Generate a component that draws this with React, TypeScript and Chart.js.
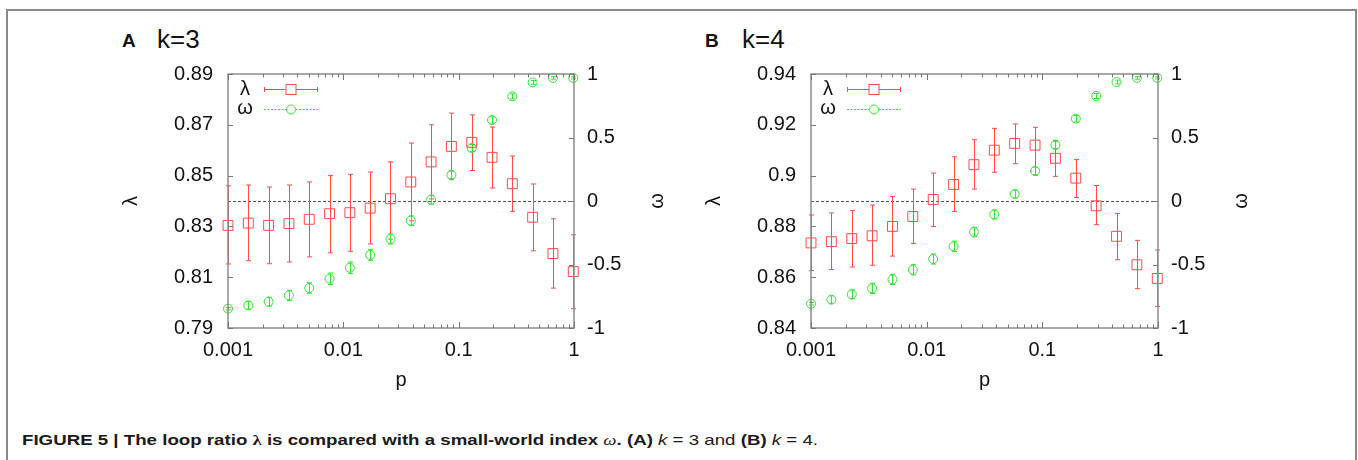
import React, { useEffect, useLayoutEffect, useRef, useState } from 'react';
import { Chart, registerables } from 'chart.js';

Chart.register(...registerables);

// ---------- data ----------
const P = [0.001, 0.0015, 0.00225, 0.003375, 0.0050625, 0.0075938, 0.0113906, 0.0170859, 0.0256289,
  0.0384434, 0.057665, 0.0864976, 0.1297463, 0.1946195, 0.2919293, 0.4378939, 0.6568408, 0.9852613];

const X_TICK_LABELS = ['0.001', '0.01', '0.1', '1'];

// Panel A: k = 3
const LAMBDA_A = [0.8304, 0.8313, 0.8304, 0.8311, 0.8328, 0.835, 0.8354, 0.8372, 0.8409, 0.8475, 0.8554, 0.8615, 0.8631, 0.8572, 0.8468, 0.8336, 0.8193, 0.8122];
const LAMBDA_HI_A = [0.846, 0.8463, 0.8455, 0.8463, 0.8475, 0.85, 0.8505, 0.8514, 0.8554, 0.8628, 0.87, 0.8746, 0.8739, 0.8691, 0.8577, 0.8467, 0.833, 0.8267];
const LAMBDA_LO_A = [0.8152, 0.8165, 0.8153, 0.816, 0.818, 0.8196, 0.8202, 0.8231, 0.825, 0.8322, 0.8408, 0.8484, 0.852, 0.8451, 0.8359, 0.8204, 0.8057, 0.7976];
const OMEGA_A = [-0.848, -0.822, -0.793, -0.743, -0.685, -0.612, -0.525, -0.425, -0.299, -0.155, 0.01, 0.205, 0.417, 0.638, 0.824, 0.934, 0.969, 0.969];
const OMEGA_ERR_A = [0.01, 0.03, 0.035, 0.04, 0.042, 0.045, 0.045, 0.042, 0.04, 0.038, 0.035, 0.03, 0.028, 0.025, 0.02, 0.015, 0.01, 0.008];
const Y_TICKS_A = [0.79, 0.81, 0.83, 0.85, 0.87, 0.89];
const Y_LABELS_A = ['0.79', '0.81', '0.83', '0.85', '0.87', '0.89'];

// Panel B: k = 4
const LAMBDA_B = [0.8735, 0.874, 0.8752, 0.8763, 0.88, 0.8839, 0.8906, 0.8965, 0.9043, 0.91, 0.9127, 0.912, 0.9068, 0.899, 0.8881, 0.8761, 0.8649, 0.8595];
const LAMBDA_HI_B = [0.8845, 0.8853, 0.8863, 0.8884, 0.8918, 0.8947, 0.901, 0.9074, 0.9141, 0.9186, 0.9203, 0.919, 0.9139, 0.9063, 0.8961, 0.8851, 0.8745, 0.8707];
const LAMBDA_LO_B = [0.8626, 0.863, 0.864, 0.8647, 0.8683, 0.8733, 0.88, 0.8859, 0.8947, 0.9013, 0.9047, 0.9002, 0.8997, 0.8914, 0.8807, 0.8669, 0.8555, 0.8485];
const OMEGA_B = [-0.809, -0.777, -0.735, -0.688, -0.617, -0.541, -0.457, -0.357, -0.244, -0.106, 0.055, 0.236, 0.441, 0.648, 0.827, 0.937, 0.969, 0.969];
const OMEGA_ERR_B = [0.01, 0.03, 0.035, 0.04, 0.04, 0.042, 0.04, 0.04, 0.038, 0.035, 0.03, 0.03, 0.028, 0.025, 0.02, 0.015, 0.01, 0.008];
const Y_TICKS_B = [0.84, 0.86, 0.88, 0.9, 0.92, 0.94];
const Y_LABELS_B = ['0.84', '0.86', '0.88', '0.9', '0.92', '0.94'];

const Y2_TICKS = [-1, -0.5, 0, 0.5, 1];
const Y2_LABELS = ['-1', '-0.5', '0', '0.5', '1'];

// ---------- style ----------
const RED = '#ff4a4a';
const GREEN = '#33e633';
const SANS = '"Liberation Sans", Arial, Helvetica, sans-serif';
const TICK_FONT = { family: SANS, size: 20 };
const CANVAS_H = 340;
const LEFT_W = 128;
const RIGHT_W = 126;
const XAXIS_H = 72;

const isDecade = (v: number) => {
  const e = Math.log10(v);
  return Math.abs(e - Math.round(e)) < 1e-6;
};

function makeDeco() {
  return {
    id: 'deco',
    beforeDatasetsDraw(chart: any) {
      const { ctx, chartArea: a, scales } = chart;
      const y2 = scales.y2;
      ctx.save();
      const z = Math.round(y2.getPixelForValue(0)) + 0.5;
      ctx.strokeStyle = '#555';
      ctx.lineWidth = 1;
      ctx.setLineDash([3, 2]);
      ctx.beginPath();
      ctx.moveTo(a.left, z);
      ctx.lineTo(a.right, z);
      ctx.stroke();
      ctx.setLineDash([]);
      chart.data.datasets.forEach((ds: any, di: number) => {
        const meta = chart.getDatasetMeta(di);
        const sc = scales[ds.yAxisID];
        ctx.strokeStyle = ds.errColor;
        ctx.lineWidth = 1;
        meta.data.forEach((pt: any, j: number) => {
          const xp = Math.round(pt.x) + 0.5;
          const t = sc.getPixelForValue(ds.errHi[j]);
          const b = sc.getPixelForValue(ds.errLo[j]);
          ctx.beginPath();
          ctx.moveTo(xp, t);
          ctx.lineTo(xp, b);
          ctx.moveTo(xp - 2.5, t);
          ctx.lineTo(xp + 2.5, t);
          ctx.moveTo(xp - 2.5, b);
          ctx.lineTo(xp + 2.5, b);
          ctx.stroke();
        });
      });
      ctx.restore();
    },
    afterDraw(chart: any) {
      const { ctx, chartArea: a, scales } = chart;
      const xs = scales.x, ys = scales.y, y2 = scales.y2;
      ctx.save();
      ctx.strokeStyle = '#8c8c8c';
      ctx.lineWidth = 1.5;
      ctx.strokeRect(a.left, a.top, a.right - a.left, a.bottom - a.top);
      ctx.strokeStyle = '#777';
      ctx.lineWidth = 1;
      ctx.beginPath();
      xs.ticks.forEach((t: any) => {
        const px = Math.round(xs.getPixelForValue(t.value)) + 0.5;
        const len = isDecade(t.value) ? 6 : 3.5;
        ctx.moveTo(px, a.bottom);
        ctx.lineTo(px, a.bottom - len);
        ctx.moveTo(px, a.top);
        ctx.lineTo(px, a.top + len);
      });
      ys.ticks.forEach((t: any) => {
        const py = Math.round(ys.getPixelForValue(t.value)) + 0.5;
        ctx.moveTo(a.left, py);
        ctx.lineTo(a.left + 5, py);
      });
      y2.ticks.forEach((t: any) => {
        const py = Math.round(y2.getPixelForValue(t.value)) + 0.5;
        ctx.moveTo(a.right, py);
        ctx.lineTo(a.right - 5, py);
      });
      ctx.stroke();

      // legend
      ctx.fillStyle = '#111';
      ctx.font = `20px ${SANS}`;
      ctx.textAlign = 'center';
      ctx.textBaseline = 'middle';
      ctx.fillText('λ', a.left + 17, a.top + 15);
      ctx.fillText('ω', a.left + 17, a.top + 34);
      const ly1 = Math.round(a.top + 14.5) + 0.5;
      ctx.strokeStyle = RED;
      ctx.lineWidth = 1;
      ctx.beginPath();
      ctx.moveTo(a.left + 36, ly1);
      ctx.lineTo(a.left + 90, ly1);
      ctx.moveTo(a.left + 36.5, ly1 - 2.5);
      ctx.lineTo(a.left + 36.5, ly1 + 2.5);
      ctx.moveTo(a.left + 89.5, ly1 - 2.5);
      ctx.lineTo(a.left + 89.5, ly1 + 2.5);
      ctx.stroke();
      ctx.fillStyle = '#fff';
      ctx.fillRect(a.left + 58, ly1 - 5, 10, 10);
      ctx.strokeRect(a.left + 58, ly1 - 5, 10, 10);
      const ly2 = Math.round(a.top + 34.7) + 0.5;
      ctx.strokeStyle = GREEN;
      ctx.setLineDash([2, 1.5]);
      ctx.beginPath();
      ctx.moveTo(a.left + 36, ly2);
      ctx.lineTo(a.left + 90, ly2);
      ctx.stroke();
      ctx.setLineDash([]);
      ctx.beginPath();
      ctx.arc(a.left + 63, ly2, 4.5, 0, Math.PI * 2);
      ctx.fillStyle = '#fff';
      ctx.fill();
      ctx.stroke();

      // axis titles
      ctx.fillStyle = '#111';
      ctx.font = `20px ${SANS}`;
      const midY = (a.top + a.bottom) / 2;
      ctx.save();
      ctx.translate(a.left - 97, midY);
      ctx.rotate(-Math.PI / 2);
      ctx.textAlign = 'center';
      ctx.textBaseline = 'middle';
      ctx.fillText('λ', 0, 0);
      ctx.restore();
      ctx.save();
      ctx.translate(a.right + 83, midY);
      ctx.rotate(-Math.PI / 2);
      ctx.textAlign = 'center';
      ctx.textBaseline = 'middle';
      ctx.fillText('ω', 0, 0);
      ctx.restore();
      ctx.textAlign = 'center';
      ctx.textBaseline = 'alphabetic';
      ctx.fillText('p', (a.left + a.right) / 2, a.bottom + 58);
      ctx.restore();
    },
  };
}

type PanelProps = {
  left: number;
  width: number;
  letter: string;
  kText: string;
  letterX: number;
  kX: number;
  lam: number[];
  lamHi: number[];
  lamLo: number[];
  omega: number[];
  omegaErr: number[];
  yTicks: number[];
  yLabels: string[];
};

function Panel(props: PanelProps) {
  const ref = useRef<HTMLCanvasElement>(null);
  const { left, width, lam, lamHi, lamLo, omega, omegaErr, yTicks, yLabels } = props;
  useEffect(() => {
    if (!ref.current) return;
    const chart = new Chart(ref.current, {
      type: 'scatter',
      data: {
        datasets: [
          {
            label: 'λ',
            data: P.map((p, i) => ({ x: p, y: lam[i] })),
            yAxisID: 'y',
            showLine: false,
            pointStyle: 'rect',
            pointRadius: 7,
            pointHoverRadius: 7,
            pointBorderWidth: 1,
            pointBorderColor: RED,
            pointBackgroundColor: 'rgba(0,0,0,0)',
            clip: false,
            errHi: lamHi,
            errLo: lamLo,
            errColor: RED,
          } as any,
          {
            label: 'ω',
            data: P.map((p, i) => ({ x: p, y: omega[i] })),
            yAxisID: 'y2',
            showLine: false,
            pointStyle: 'circle',
            pointRadius: 4.5,
            pointHoverRadius: 4.5,
            pointBorderWidth: 1,
            pointBorderColor: GREEN,
            pointBackgroundColor: 'rgba(0,0,0,0)',
            clip: false,
            errHi: omega.map((v, i) => v + omegaErr[i]),
            errLo: omega.map((v, i) => v - omegaErr[i]),
            errColor: GREEN,
          } as any,
        ],
      },
      options: {
        animation: false,
        responsive: false,
        devicePixelRatio: 1,
        layout: { padding: { top: 14, left: 0, right: 0, bottom: 0 } },
        plugins: { legend: { display: false }, tooltip: { enabled: false } },
        scales: {
          x: {
            type: 'logarithmic',
            position: 'bottom',
            min: 0.001,
            max: 1,
            grid: { display: false, drawTicks: true, tickLength: 10 },
            border: { display: false },
            ticks: {
              autoSkip: false,
              maxRotation: 0,
              minRotation: 0,
              padding: 0,
              color: '#111',
              font: TICK_FONT,
              callback: (v: any) => {
                const n = Number(v);
                if (!isDecade(n)) return '';
                return X_TICK_LABELS[Math.round(Math.log10(n)) + 3];
              },
            },
            afterBuildTicks: (s: any) => {
              const t: { value: number }[] = [];
              for (let e = -3; e < 0; e++) {
                for (let m = 1; m <= 9; m++) t.push({ value: Number((m * Math.pow(10, e)).toPrecision(3)) });
              }
              t.push({ value: 1 });
              s.ticks = t;
            },
            afterFit: (s: any) => {
              s.height = XAXIS_H;
            },
          } as any,
          y: {
            type: 'linear',
            position: 'left',
            min: yTicks[0],
            max: yTicks[yTicks.length - 1],
            grid: { display: false, drawTicks: true, tickLength: 15 },
            border: { display: false },
            ticks: {
              padding: 0,
              color: '#111',
              font: TICK_FONT,
              callback: (_v: any, i: number) => yLabels[i],
            },
            afterBuildTicks: (s: any) => {
              s.ticks = yTicks.map((v) => ({ value: v }));
            },
            afterFit: (s: any) => {
              s.width = LEFT_W;
            },
          } as any,
          y2: {
            type: 'linear',
            position: 'right',
            min: -1,
            max: 1,
            grid: { display: false, drawTicks: true, tickLength: 13 },
            border: { display: false },
            ticks: {
              padding: 0,
              color: '#111',
              font: TICK_FONT,
              callback: (_v: any, i: number) => Y2_LABELS[i],
            },
            afterBuildTicks: (s: any) => {
              s.ticks = Y2_TICKS.map((v) => ({ value: v }));
            },
            afterFit: (s: any) => {
              s.width = RIGHT_W;
            },
          } as any,
        },
      },
      plugins: [makeDeco() as any],
    });
    return () => chart.destroy();
  }, []);

  return (
    <>
      <div
        style={{
          position: 'absolute',
          left: props.letterX,
          top: 31,
          fontFamily: SANS,
          fontWeight: 'bold',
          fontSize: 19,
          lineHeight: '19px',
          color: '#111',
          whiteSpace: 'nowrap',
        }}
      >
        {props.letter}
      </div>
      <div
        style={{
          position: 'absolute',
          left: props.kX,
          top: 26,
          fontFamily: SANS,
          fontSize: 26,
          lineHeight: '26px',
          color: '#111',
          whiteSpace: 'nowrap',
        }}
      >
        {props.kText}
      </div>
      <canvas
        ref={ref}
        width={width}
        height={CANVAS_H}
        style={{ position: 'absolute', left, top: 60, width, height: CANVAS_H }}
      />
    </>
  );
}

function Caption() {
  const ref = useRef<HTMLDivElement>(null);
  const [sx, setSx] = useState(1);
  useLayoutEffect(() => {
    if (ref.current) {
      const w = ref.current.offsetWidth;
      if (w > 0) setSx(796 / w);
    }
  }, []);
  const serif = { fontFamily: '"Liberation Serif", "Times New Roman", serif' };
  return (
    <div
      ref={ref}
      style={{
        position: 'absolute',
        left: 22,
        top: 432,
        whiteSpace: 'nowrap',
        fontFamily: '"Liberation Sans Narrow", "Liberation Sans", Arial, sans-serif',
        fontSize: 15,
        lineHeight: '15px',
        color: '#1a1a1a',
        transform: `scaleX(${sx})`,
        transformOrigin: 'left top',
        display: 'inline-block',
      }}
    >
      <b>
        FIGURE 5 | The loop ratio <span style={serif}>λ</span> is compared with a small-world index{' '}
        <i style={{ ...serif, fontWeight: 'normal' }}>ω</i>. (A)
      </b>{' '}
      <i>k</i> = 3 and <b>(B)</b> <i>k</i> = 4.
    </div>
  );
}

export default function App() {
  return (
    <div
      style={{
        position: 'absolute',
        left: 0,
        top: 0,
        width: 1358,
        height: 460,
        background: '#fff',
        overflow: 'hidden',
      }}
    >
      <div
        style={{
          position: 'absolute',
          left: 6,
          top: 9,
          width: 1351,
          height: 470,
          boxSizing: 'border-box',
          borderTop: '2px solid #8a8a8a',
          borderLeft: '2px solid #8a8a8a',
          borderRight: '2px solid #8a8a8a',
        }}
      />
      <Panel
        left={100}
        width={600}
        letter="A"
        kText="k=3"
        letterX={122}
        kX={157}
        lam={LAMBDA_A}
        lamHi={LAMBDA_HI_A}
        lamLo={LAMBDA_LO_A}
        omega={OMEGA_A}
        omegaErr={OMEGA_ERR_A}
        yTicks={Y_TICKS_A}
        yLabels={Y_LABELS_A}
      />
      <Panel
        left={683}
        width={601}
        letter="B"
        kText="k=4"
        letterX={705}
        kX={742}
        lam={LAMBDA_B}
        lamHi={LAMBDA_HI_B}
        lamLo={LAMBDA_LO_B}
        omega={OMEGA_B}
        omegaErr={OMEGA_ERR_B}
        yTicks={Y_TICKS_B}
        yLabels={Y_LABELS_B}
      />
      <Caption />
    </div>
  );
}
